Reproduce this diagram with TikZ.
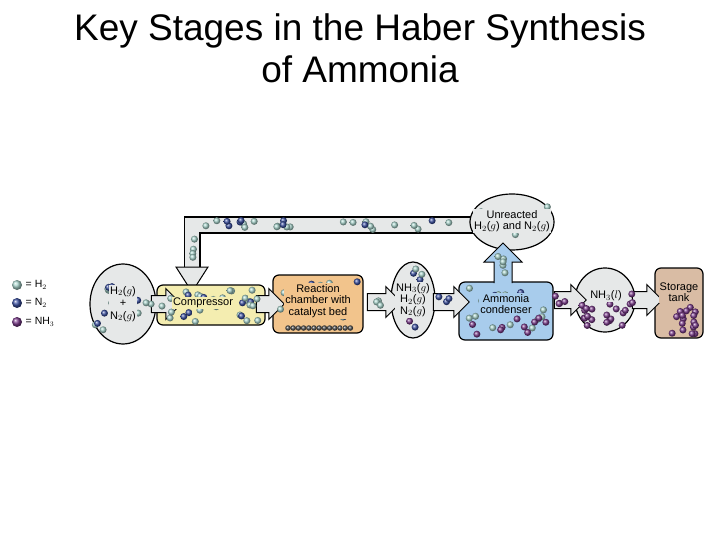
\documentclass[tikz,border=0pt]{standalone}
\usepackage{fontspec}
\setmainfont{Liberation Sans}
\usetikzlibrary{shapes.arrows,shapes.geometric}
\definecolor{hh}{HTML}{A8D4CC}
\definecolor{nn}{HTML}{3A4FA0}
\definecolor{am}{HTML}{7A3A8A}
\definecolor{pipegray}{HTML}{E6E8E8}
\definecolor{compfill}{HTML}{F4EDB0}
\definecolor{reacfill}{HTML}{F2C48C}
\definecolor{condfill}{HTML}{A8CCEC}
\definecolor{tankfill}{HTML}{D9BCA4}
\tikzset{
  stage/.style={draw,line width=1.2pt,rounded corners=6pt,inner sep=0pt},
  bubble/.style={draw,line width=1.2pt,ellipse,fill=pipegray,inner sep=0pt},
  pipe/.style={single arrow,draw,line width=1pt,fill=pipegray,single arrow head extend=7pt,inner xsep=0pt,inner ysep=8pt},
  mol/.style={circle,inner sep=0pt,minimum size=7pt,ball color=#1},
  tag/.style={font=\fontsize{11}{11.5}\selectfont,align=center,inner sep=1pt,fill=#1},
}
\newcommand\scatter[6]{% x0 y0 w h count colour
  \foreach \k in {1,...,#5}{
    \pgfmathsetmacro\mx{#1+rnd*#3}\pgfmathsetmacro\my{#2+rnd*#4}
    \node[mol=#6] at (\mx,\my) {};}}
\begin{document}
\begin{tikzpicture}[x=1pt,y=-1pt]
  \useasboundingbox (0,0) rectangle (720,540);
  \pgfmathsetseed{11}
  % title
  \node[font=\fontsize{37}{42}\selectfont,align=center] (title) at (360,48) {Key Stages in the Haber Synthesis\\of Ammonia};
  % legend
  \node[mol=hh,minimum size=10pt] (lh) at (17,285) {};
  \node[mol=nn,minimum size=10pt] (ln) at (17,303) {};
  \node[mol=am,minimum size=10pt] (la) at (17,322) {};
  \node[right,font=\fontsize{10.5}{11}\selectfont] at (lh.east) {= H$_2$};
  \node[right,font=\fontsize{10.5}{11}\selectfont] at (ln.east) {= N$_2$};
  \node[right,font=\fontsize{10.5}{11}\selectfont] at (la.east) {= NH$_3$};
  % recycle pipe
  \draw[line width=17pt] (475,225) -- (192,225) -- (192,268);
  \draw[line width=14.6pt,pipegray] (476,225) -- (192,225) -- (192,269);
  \draw[line width=1pt,fill=pipegray] (176,267) -- (208,267) -- (192,292) -- cycle;
  \scatter{195}{220}{270}{10}{18}{hh}
  \scatter{195}{220}{270}{10}{8}{nn}
  \scatter{188}{232}{8}{32}{4}{hh}
  % stages
  \node[bubble,minimum width=66pt,minimum height=80pt] (feed) at (123,304) {};
  \node[stage,fill=compfill,minimum width=108pt,minimum height=40pt] (comp) at (211,305) {};
  \node[stage,fill=reacfill,minimum width=90pt,minimum height=58pt] (reac) at (318,304) {};
  \node[bubble,minimum width=44pt,minimum height=76pt] (prod) at (413,300) {};
  \node[stage,fill=condfill,minimum width=94pt,minimum height=58pt] (cond) at (506,311) {};
  \node[bubble,minimum width=84pt,minimum height=56pt] (unre) at (512,222) {};
  \draw[line width=1pt,fill=condfill] (494,283) -- (494,262) -- (484,262) -- (503,243)
    -- (522,262) -- (512,262) -- (512,283);
  \node[bubble,minimum width=60pt,minimum height=64pt] (liq) at (605,300) {};
  \node[stage,fill=tankfill,minimum width=48pt,minimum height=70pt] (tank) at (679,303) {};
  % block arrows between stages
  \node[pipe,minimum height=30pt] (p1) at (162,304) {};
  \node[pipe,minimum height=28pt] (p2) at (266,304) {};
  \node[pipe,minimum height=34pt] (p3) at (380,302) {};
  \node[pipe,minimum height=36pt] (p4) at (447,302) {};
  \node[pipe,minimum height=32pt] (p5) at (566,300) {};
  \node[pipe,minimum height=30pt] (p6) at (643,300) {};
  % molecules
  \scatter{95}{275}{55}{60}{10}{hh}
  \scatter{95}{275}{55}{60}{5}{nn}
  \scatter{145}{298}{30}{10}{4}{hh}
  \scatter{170}{290}{90}{32}{20}{hh}
  \scatter{170}{290}{90}{32}{9}{nn}
  \scatter{245}{298}{20}{10}{3}{hh}
  \scatter{278}{280}{80}{38}{14}{hh}
  \scatter{278}{280}{80}{38}{6}{nn}
  \foreach \i in {0,...,12}{\node[mol=black!70,minimum size=5.5pt] at (288+\i*5.2,328) {};}
  \scatter{398}{266}{30}{66}{6}{am}
  \scatter{398}{266}{30}{66}{4}{nn}
  \scatter{398}{266}{30}{66}{3}{hh}
  \scatter{366}{296}{22}{10}{3}{hh}
  \scatter{434}{296}{22}{10}{3}{nn}
  \scatter{468}{288}{80}{48}{14}{hh}
  \scatter{468}{318}{80}{18}{10}{am}
  \scatter{468}{288}{80}{20}{4}{nn}
  \scatter{498}{250}{10}{30}{5}{hh}
  \scatter{478}{200}{70}{45}{6}{hh}
  \scatter{478}{200}{70}{45}{4}{nn}
  \scatter{553}{296}{22}{10}{4}{am}
  \scatter{582}{304}{44}{22}{18}{am}
  \scatter{630}{294}{18}{10}{3}{am}
  \scatter{662}{306}{36}{28}{16}{am}
  % labels
  \node[tag=pipegray] at (feed) {H$_2$($g$)\\[1pt]+\\[1pt]N$_2$($g$)};
  \node[tag=compfill] at (203,303) {Compressor};
  \node[tag=reacfill] at (318,301) {Reaction\\chamber with\\catalyst bed};
  \node[tag=pipegray] at (prod) {NH$_3$($g$)\\H$_2$($g$)\\N$_2$($g$)};
  \node[tag=condfill] at (506,304) {Ammonia\\condenser};
  \node[tag=pipegray] at (512,221) {Unreacted\\H$_2$($g$) and N$_2$($g$)};
  \node[tag=pipegray] at (606,296) {NH$_3$($l$)};
  \node[tag=tankfill] at (679,292) {Storage\\tank};
\end{tikzpicture}
\end{document}
